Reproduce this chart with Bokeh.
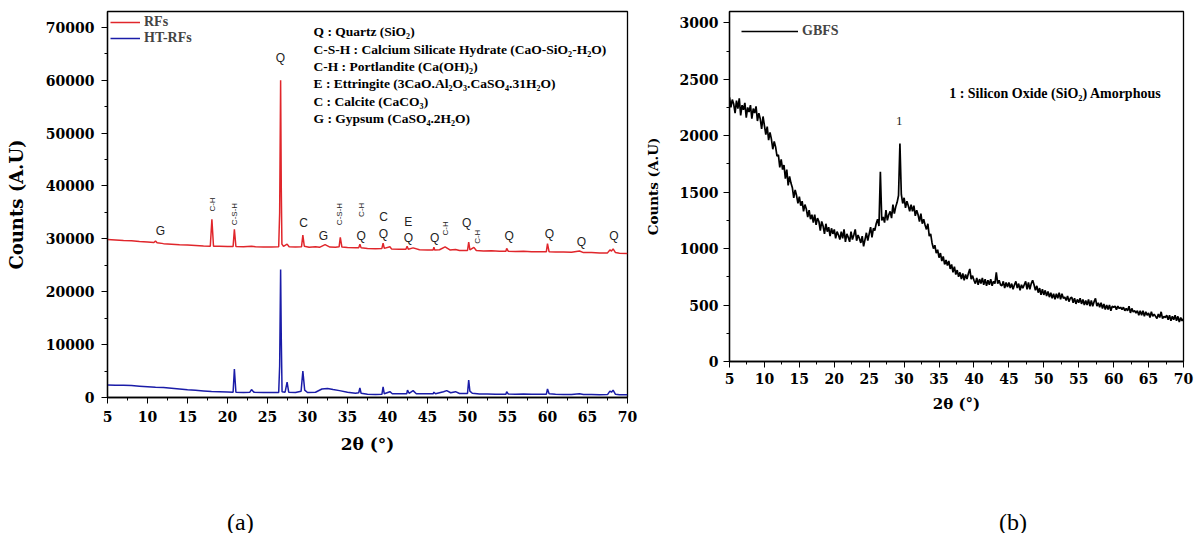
import numpy as np
from bokeh.plotting import figure
from bokeh.layouts import row, column
from bokeh.models import Range1d, SingleIntervalTicker, Div
from bokeh.embed import file_html
from bokeh.resources import INLINE
from bokeh.core.properties import value

# ---------------- (a) RFs and HT-RFs diffractograms ----------------
rfs_2theta = [5.0, 6.0, 7.0, 8.0, 9.0, 10.0, 10.8, 11.0, 11.2, 12.0, 13.0, 14.0, 15.0, 16.0, 17.0,
              17.85, 18.05, 18.25, 19.0, 20.0, 20.7, 20.86, 21.05, 22.0, 23.0, 23.5, 24.5, 25.5,
              26.4, 26.52, 26.64, 26.72, 26.8, 27.0, 27.45, 27.7, 28.5, 29.25, 29.42, 29.6, 30.2,
              31.0, 31.5, 32.2, 32.8, 33.5, 33.95, 34.1, 34.3, 35.0, 36.0, 36.4, 36.55, 36.7, 37.5,
              38.5, 39.3, 39.45, 39.6, 40.3, 40.5, 41.5, 42.3, 42.45, 42.6, 43.2, 44.0, 45.0, 45.7,
              45.8, 45.9, 46.5, 47.2, 47.8, 48.5, 49.0, 50.0, 50.15, 50.3, 50.8, 51.1, 52.0, 53.0,
              54.0, 54.8, 54.9, 55.1, 56.0, 57.0, 58.0, 59.0, 59.85, 60.0, 60.2, 61.0, 62.0, 63.0,
              64.0, 64.5, 65.5, 66.5, 67.5, 67.8, 68.0, 68.2, 68.5, 69.0, 70.0]
rfs_counts = [29900, 29800, 29700, 29650, 29500, 29400, 29300, 29600, 29250, 29100, 29000, 28900,
              28850, 28750, 28650, 28600, 33700, 28600, 28600, 28550, 28550, 31800, 28550, 28500,
              28600, 28500, 28450, 28450, 28500, 35000, 60000, 40000, 29000, 28600, 29000, 28500,
              28450, 28500, 30700, 28600, 28400, 28500, 28400, 28900, 28450, 28400, 28500, 30300,
              28450, 28350, 28300, 28300, 29000, 28300, 28200, 28150, 28200, 29200, 28200, 28500,
              28100, 28050, 28050, 28600, 28050, 28300, 27950, 27900, 27900, 28400, 27900, 27950,
              28500, 27900, 28000, 27800, 27800, 29400, 27900, 28400, 27800, 27700, 27750, 27650,
              27650, 28200, 27650, 27600, 27650, 27550, 27550, 27550, 29100, 27550, 27500, 27500,
              27450, 27700, 27400, 27400, 27350, 27350, 27900, 27700, 28100, 27400, 27300, 27250]

htrfs_2theta = [5.0, 6.0, 7.0, 8.0, 9.0, 10.0, 11.0, 12.0, 13.0, 14.0, 15.0, 16.0, 17.0, 18.0, 19.0,
                20.0, 20.7, 20.86, 21.05, 22.0, 22.8, 23.0, 23.3, 24.5, 25.5, 26.4, 26.52, 26.64,
                26.72, 26.82, 27.2, 27.45, 27.65, 28.5, 29.2, 29.42, 29.65, 30.0, 31.0, 31.8, 32.5,
                33.2, 34.0, 35.0, 36.0, 36.4, 36.55, 36.7, 37.5, 38.5, 39.3, 39.45, 39.6, 40.3, 40.6,
                41.5, 42.4, 42.5, 42.7, 43.2, 43.6, 44.5, 45.7, 45.8, 46.0, 47.0, 47.4, 47.9, 48.5,
                49.0, 50.0, 50.15, 50.3, 50.6, 51.5, 52.5, 53.5, 54.8, 54.9, 55.1, 56.0, 57.0, 58.0,
                59.0, 59.85, 60.0, 60.2, 61.0, 62.0, 63.0, 64.0, 64.5, 65.5, 66.5, 67.5, 67.8, 68.0,
                68.2, 68.5, 69.0, 70.0]
htrfs_counts = [2350, 2300, 2300, 2250, 2150, 2050, 1950, 1900, 1750, 1600, 1450, 1350, 1250, 1150,
                1100, 1050, 1000, 5400, 1000, 950, 1000, 1500, 1000, 950, 950, 950, 6000, 24200,
                11500, 1100, 1000, 2900, 1000, 950, 1200, 5000, 1400, 950, 1000, 1600, 1700, 1500,
                1300, 1000, 800, 900, 1800, 800, 600, 550, 600, 2000, 700, 1100, 700, 700, 700, 1400,
                800, 1300, 700, 700, 700, 1000, 700, 1100, 1300, 900, 1100, 750, 750, 3300, 1200,
                800, 650, 650, 600, 600, 1100, 650, 600, 650, 600, 600, 600, 1600, 700, 600, 550,
                550, 700, 550, 550, 500, 550, 1200, 1000, 1400, 600, 500, 500]

# phase markers above the RFs pattern
peak_marks = ["G", "Q", "C", "G", "Q", "C", "Q", "E", "Q", "Q", "Q", "Q", "Q", "Q", "Q"]
peak_marks_x = [11.6, 26.6, 29.5, 32.0, 36.7, 39.5, 39.5, 42.6, 42.6, 45.9, 49.9, 55.2, 60.25, 64.25, 68.3]
peak_marks_y = [31400, 64200, 33000, 30500, 30600, 34200, 31000, 33200, 30200, 30200, 33000, 30600,
                30900, 29500, 30500]
vert_marks = ["C-H", "C-S-H", "C-S-H", "C-H", "C-H", "C-H"]
vert_marks_x = [18.1, 20.9, 34.05, 36.7, 47.2, 51.3]
vert_marks_y = [36500, 34700, 34700, 35500, 32000, 30400]

phase_key = ["Q : Quartz (SiO\u2082)",
             "C-S-H : Calcium Silicate Hydrate (CaO-SiO\u2082-H\u2082O)",
             "C-H : Portlandite (Ca(OH)\u2082)",
             "E : Ettringite (3CaO.Al\u2082O\u2083.CaSO\u2084.31H\u2082O)",
             "C : Calcite (CaCO\u2083)",
             "G : Gypsum (CaSO\u2084.2H\u2082O)"]
phase_key_y = [69200, 65900, 62600, 59300, 56000, 52700]

# ---------------- (b) GBFS diffractogram ----------------
gbfs_2theta = np.round(np.arange(5.0, 70.0001, 0.2), 1)
gbfs_counts = [
    2340, 2250, 2320, 2280, 2200,
    2310, 2240, 2330, 2180, 2270,
    2230, 2290, 2160, 2250, 2210,
    2270, 2150, 2240, 2200, 2260,
    2130, 2200, 2150, 2060, 2170,
    2090, 2010, 2080, 1960, 2030,
    1970, 1880, 1950, 1900, 1820,
    1830, 1720, 1790, 1700, 1740,
    1620, 1700, 1560, 1640, 1580,
    1540, 1450, 1520, 1470, 1400,
    1460, 1380, 1420, 1330, 1390,
    1350, 1280, 1340, 1260, 1300,
    1230, 1300, 1210, 1270, 1240,
    1160, 1240, 1200, 1130, 1220,
    1150, 1190, 1110, 1180, 1130,
    1170, 1090, 1150, 1120, 1080,
    1150, 1090, 1170, 1060, 1130,
    1100, 1060, 1150, 1080, 1120,
    1170, 1070, 1120, 1090, 1050,
    1110, 1020, 1080, 1140, 1070,
    1130, 1190, 1100, 1180, 1160,
    1220, 1260, 1200, 1680, 1250,
    1280, 1230, 1340, 1250, 1300,
    1330, 1270, 1390, 1310, 1370,
    1410, 1470, 1930, 1480, 1400,
    1450, 1360, 1420, 1380, 1330,
    1390, 1330, 1380, 1290, 1340,
    1300, 1240, 1310, 1220, 1260,
    1210, 1170, 1220, 1110, 1130,
    1050, 1000, 1030, 960, 990,
    920, 960, 890, 930, 860,
    900, 850, 890, 820, 860,
    790, 840, 770, 810, 750,
    790, 730, 780, 720, 770,
    730, 780, 820, 730, 760,
    720, 690, 740, 680, 730,
    690, 740, 680, 730, 670,
    720, 680, 730, 670, 710,
    690, 790, 690, 720, 680,
    670, 710, 650, 700, 660,
    700, 650, 690, 640, 680,
    710, 650, 690, 630, 680,
    650, 680, 710, 640, 700,
    640, 690, 720, 680, 630,
    670, 610, 650, 590, 640,
    590, 630, 580, 620, 570,
    610, 560, 600, 550, 600,
    560, 610, 550, 600, 560,
    570, 540, 580, 530, 560,
    570, 520, 560, 510, 550,
    520, 560, 510, 550, 500,
    540, 500, 550, 490, 540,
    490, 530, 560, 490, 520,
    480, 520, 470, 510, 460,
    500, 460, 500, 450, 490,
    480, 490, 460, 490, 470,
    480, 460, 480, 450, 470,
    450, 490, 430, 470, 440,
    450, 430, 450, 410, 450,
    410, 450, 400, 440, 410,
    430, 390, 440, 400, 420,
    400, 380, 420, 390, 440,
    380, 400, 390, 410, 370,
    410, 360, 400, 370, 410,
    360, 400, 350, 390, 360,
    380]

SERIF = "DejaVu Serif"
TEXT_SERIF = "Liberation Serif"
SANS = "Liberation Sans"


def style_axes(p, y_interval, label_size, x_std, y_std, x_lab_std, y_lab_std):
    p.grid.visible = False
    p.outline_line_color = "black"
    p.outline_line_width = 1.3
    p.outline_line_alpha = 1.0
    p.xaxis.ticker = SingleIntervalTicker(interval=5, num_minor_ticks=2)
    p.yaxis.ticker = SingleIntervalTicker(interval=y_interval, num_minor_ticks=2)
    for ax in p.xaxis + p.yaxis:
        ax.axis_line_color = "black"
        ax.axis_line_width = 1.3
        ax.major_tick_line_color = "black"
        ax.minor_tick_line_color = "black"
        ax.major_tick_out = 6
        ax.major_tick_in = 0
        ax.minor_tick_out = 3
        ax.minor_tick_in = 0
        ax.major_label_text_font = SERIF
        ax.major_label_text_font_style = "bold"
        ax.major_label_text_font_size = "14px"
        ax.major_label_text_color = "black"
        ax.axis_label_text_font = SERIF
        ax.axis_label_text_font_style = "bold"
        ax.axis_label_text_color = "black"
    p.xaxis.major_label_standoff = x_std
    p.yaxis.major_label_standoff = y_std
    p.xaxis.axis_label_standoff = x_lab_std
    p.yaxis.axis_label_standoff = y_lab_std
    p.xaxis.axis_label_text_font_size = label_size[0]
    p.yaxis.axis_label_text_font_size = label_size[1]


def style_legend(lg, margin, glyph_w):
    lg.location = "top_left"
    lg.margin = margin
    lg.padding = 0
    lg.spacing = 0
    lg.glyph_width = glyph_w
    lg.glyph_height = 16
    lg.label_height = 16
    lg.label_standoff = 4
    lg.border_line_alpha = 0
    lg.background_fill_alpha = 0
    lg.label_text_font = TEXT_SERIF
    lg.label_text_font_style = "bold"
    lg.label_text_font_size = "14px"


# ---------- panel (a) ----------
pa = figure(width=640, height=470, output_backend="svg", toolbar_location=None,
            x_range=Range1d(5, 70), y_range=Range1d(0, 73000),
            min_border_left=107, min_border_right=13, min_border_top=11, min_border_bottom=73,
            x_axis_label="2\u03b8 (\u00b0)", y_axis_label="Counts (A.U)")
style_axes(pa, 10000, ("17px", "18px"), 7, 7, 9, 16)
pa.yaxis.formatter.use_scientific = False

pa.line(rfs_2theta, rfs_counts, line_color="#e0262b", line_width=1.5, legend_label="RFs")
pa.line(htrfs_2theta, htrfs_counts, line_color="#1a1ca8", line_width=1.5, legend_label="HT-RFs")

pa.text(x=peak_marks_x, y=peak_marks_y, text=peak_marks, text_font=value(SANS),
        text_font_size="12px", text_align="center", text_baseline="middle", text_color="#222222")
pa.text(x=vert_marks_x, y=vert_marks_y, text=vert_marks, angle=np.pi / 2, text_font=value(SANS),
        text_font_size="8px", text_align="center", text_baseline="middle", text_color="#222222")
pa.text(x=[30.75] * len(phase_key), y=phase_key_y, text=phase_key, text_font=value(TEXT_SERIF),
        text_font_style="bold", text_font_size="13.5px", text_align="left",
        text_baseline="middle", text_color="black")
style_legend(pa.legend[0], 3, 30)

# ---------- panel (b) ----------
pb = figure(width=557, height=434, output_backend="svg", toolbar_location=None,
            x_range=Range1d(5, 70), y_range=Range1d(0, 3100),
            min_border_left=89, min_border_right=14, min_border_top=11, min_border_bottom=73,
            x_axis_label="2\u03b8 (\u00b0)", y_axis_label="Counts (A.U)")
style_axes(pb, 500, ("15px", "13.5px"), 5, 5, 8, 16)

pb.line(gbfs_2theta, gbfs_counts, line_color="black", line_width=1.7, legend_label="GBFS")
pb.text(x=[36.45], y=[2375], text=["1 : Silicon Oxide (SiO\u2082) Amorphous"],
        text_font=value(TEXT_SERIF), text_font_style="bold", text_font_size="14px",
        text_align="left", text_baseline="middle", text_color="black")
pb.text(x=[29.3], y=[2126], text=["1"], text_font=value(TEXT_SERIF), text_font_size="13px",
        text_align="center", text_baseline="middle", text_color="#222222")
style_legend(pb.legend[0], 12, 57)

# ---------- panel captions ----------
captions = Div(
    text=('<div style="position:relative;width:1197px;height:63px;'
          'font-family:\'Liberation Serif\';font-size:24px;color:black;">'
          '<span style="position:absolute;left:227px;top:35px;">(a)</span>'
          '<span style="position:absolute;left:999px;top:35px;">(b)</span></div>'),
    width=1197, height=63, margin=(0, 0, 0, 0))

layout = column(row(pa, pb), captions)
open("out.html", "w").write(file_html(layout, INLINE))
